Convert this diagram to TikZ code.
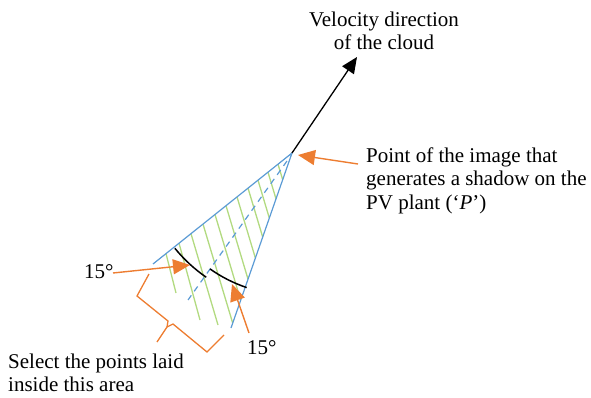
\documentclass[tikz,border=0pt]{standalone}
\usepackage{fontspec}
\setmainfont{Liberation Serif}
\usetikzlibrary{arrows.meta,calc}
\definecolor{cblue}{RGB}{91,155,213}
\definecolor{cgreen}{RGB}{178,218,128}
\definecolor{corange}{RGB}{237,125,49}
\tikzset{
  lbl/.style={inner sep=0pt, font=\fontsize{21}{23.5}\selectfont},
  edgeline/.style={cblue, line width=1.2pt},
  midline/.style={cblue, line width=1.2pt, dash pattern=on 6pt off 5pt},
  hatch/.style={cgreen, line width=1.3pt},
  arcline/.style={black, line width=1.5pt},
  oarrow/.style={corange, line width=1.4pt, -{Triangle[length=17pt,width=15pt]}},
  karrow/.style={black, line width=1.3pt, -{Triangle[length=16pt,width=14pt]}},
  brace/.style={corange, line width=1.3pt, line join=miter}
}
\begin{document}
\begin{tikzpicture}[x=1pt,y=-1pt]
\useasboundingbox (0,0) rectangle (591,398);
% geometry
\coordinate (P) at (292,153);
\coordinate (U) at (153,264);
\coordinate (R) at (231,328);
\coordinate (Ds) at (287,161);
\coordinate (De) at (188,300);
\coordinate (V) at (357,57);
% hatch
\draw[hatch] (166,253.6) -- (176,293);
\draw[hatch] (179,243.2) -- (200,320);
\draw[hatch] (191,233.7) -- (218,325);
\draw[hatch] (203,224.1) -- (232.7,323.1);
\draw[hatch] (215,214.5) -- (240.7,300.2);
\draw[hatch] (226,205.7) -- (248.0,279.1);
\draw[hatch] (237,196.9) -- (255.4,258.1);
\draw[hatch] (248,188.1) -- (262.7,237.1);
\draw[hatch] (258,180.2) -- (269.3,218.0);
\draw[hatch] (268,172.2) -- (276.0,198.9);
\draw[hatch] (278,164.2) -- (282.7,179.8);
% cone
\draw[edgeline] (U) -- (P) -- (R);
\draw[midline] (Ds) -- (De);
% arcs
\draw[arcline] ($(P)+(140.9:151)$) arc[start angle=140.9,end angle=124.6,radius=151];
\draw[arcline] ($(P)+(125.3:142)$) arc[start angle=125.3,end angle=108.6,radius=142];
% velocity
\draw[karrow] (P) -- (V);
\node[lbl, anchor=north, align=center] (vel) at (384,11.5) {Velocity direction\\of the cloud};
% point label
\node[lbl, anchor=north west, align=left] (pt) at (366,147.4) {Point of the image that\\generates a shadow on the\\PV plant (‘\textit{P}’)};
\coordinate (ptA) at (358,164);
\coordinate (ptT) at (298,155);
\draw[oarrow] (ptA) -- (ptT);
% 15 deg labels
\node[lbl, anchor=base west] (a1) at (84,278) {15°};
\coordinate (a1s) at (113,273);
\coordinate (a1t) at (190,265);
\draw[oarrow] (a1s) -- (a1t);
\node[lbl, anchor=base west] (a2) at (247,354) {15°};
\coordinate (a2s) at (249,333);
\coordinate (a2t) at (232,284);
\draw[oarrow] (a2s) -- (a2t);
% select label
\node[lbl, anchor=north west, align=left] (sel) at (8,353.7) {Select the points laid\\inside this area};
% brace
\draw[brace] (149,274) -- (137,296) -- (168,321) -- (167,327) -- (157,342);
\draw[brace] (167,327) -- (173,324) -- (207,352) -- (224,335);
\end{tikzpicture}
\end{document}
